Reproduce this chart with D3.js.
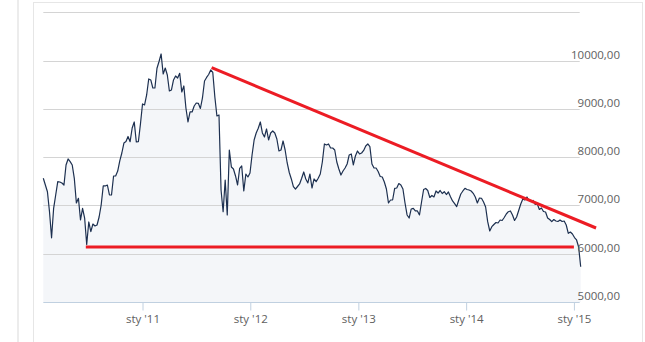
<!DOCTYPE html>
<html>
<head>
<meta charset="utf-8">
<script src="https://cdn.jsdelivr.net/npm/d3@7"></script>
<style>
  html, body { margin: 0; padding: 0; background: #ffffff; }
  svg { display: block; }
  text { font-family: "Open Sans", "DejaVu Sans", sans-serif; }
</style>
</head>
<body>
<svg id="chart" width="645" height="342"></svg>
<script>
// Weekly closing prices, first close on 2010-01-30
const firstClose = "2010-01-30";
const weekStep = 7;
const prices = [
  7563, 7424, 7285, 6871, 6330, 6941, 7217, 7493, 7486, 7466,
  7424, 7839, 7963, 7907, 7839, 7563, 7051, 7149, 6699, 6941,
  6740, 6190, 6658, 6457, 6616, 6575, 6595, 6761, 7010, 7404,
  7404, 7424, 7217, 7217, 7611, 7611, 7714, 7922, 8087, 8294,
  8326, 8429, 8321, 8605, 8730, 8315, 8321, 8688, 9103, 9082,
  9289, 9621, 9600, 9434, 9434, 9842, 9983, 10139, 9724, 9848,
  9703, 9372, 9393, 9600, 9683, 9641, 9739, 9351, 9476, 9020,
  8730, 8937, 8937, 9061, 9123, 9117, 9009, 9227, 9579, 9652,
  9714, 9807, 9755, 9248, 8854, 8875, 7321, 6870, 7528, 6803,
  8149, 7797, 7756, 7611, 7424, 7770, 7818, 7300, 7652, 7590,
  7673, 8046, 8357, 8502, 8599, 8730, 8502, 8419, 8585, 8357,
  8502, 8543, 8502, 8377, 8129, 8149, 8336, 8149, 7880, 7683,
  7549, 7389, 7341, 7393, 7445, 7563, 7694, 7549, 7466, 7652,
  7362, 7549, 7493, 7563, 7652, 7901, 8274, 8253, 8274, 8191,
  8191, 8149, 7901, 7756, 7631, 7714, 7776, 7859, 8046, 8067,
  7839, 8025, 8129, 8067, 8087, 8139, 8232, 8274, 8218, 7859,
  7776, 7776, 7704, 7600, 7590, 7486, 7341, 7051, 7113, 7113,
  7356, 7362, 7455, 7424, 7341, 7051, 6803, 6740, 6927, 6941,
  6886, 6886, 6803, 7072, 7331, 7352, 7310, 7165, 7207, 7176,
  7300, 7258, 7310, 7248, 7285, 7227, 7279, 7182, 7093, 7037,
  6975, 7113, 7238, 7300, 7356, 7331, 7321, 7300, 7252, 7176,
  7051, 7155, 7149, 7072, 6968, 6664, 6471, 6560, 6606, 6647,
  6637, 6699, 6689, 6751, 6823, 6871, 6886, 6803, 6689, 6761,
  6896, 7031, 7134, 7113, 7176, 7103, 7082, 7103, 7020, 7031,
  6917, 6948, 6875, 6865, 6740, 6709, 6664, 6709, 6678, 6668,
  6699, 6668, 6678, 6595, 6423, 6450, 6409, 6336, 6285, 6140, 5731
];

// Hand-drawn trend lines: falling resistance and flat support
const resistanceLine = [["2011-08-23", 9855], ["2015-03-17", 6533]];
const supportLine = [["2010-06-23", 6140], ["2015-01-01", 6140]];

// Axis ticks
const yGridValues = [5000, 6000, 7000, 8000, 9000, 10000, 11000];
const yLabelValues = [5000, 6000, 7000, 8000, 9000, 10000];
const xTickDates = ["2011-01-01", "2012-01-01", "2013-01-01", "2014-01-01", "2015-01-01"];
const xTickLabels = ["sty '11", "sty '12", "sty '13", "sty '14", "sty '15"];

const parse = d3.timeParse("%Y-%m-%d");
const start = parse(firstClose);
const series = prices.map((v, i) => ({ date: d3.timeDay.offset(start, i * weekStep), value: v }));

const svg = d3.select("#chart");
const W = 645, H = 342;
const plot = { left: 43.3, right: 580.7, top: 12.4, bottom: 302 };

const x = d3.scaleTime()
  .domain([series[0].date, series[series.length - 1].date])
  .range([plot.left, plot.right]);
const y = d3.scaleLinear()
  .domain([5000, 11000])
  .range([plot.bottom, plot.top]);

const plLocale = d3.formatLocale({ decimal: ",", thousands: "", grouping: [3], currency: ["", ""] });
const fmtY = plLocale.format(".2f");

// Page and container frame
svg.append("rect").attr("x", 0).attr("y", 0).attr("width", W).attr("height", H).attr("fill", "#ffffff");
svg.append("rect").attr("x", 17).attr("y", 0).attr("width", 2).attr("height", H).attr("fill", "#ececec");
svg.append("rect")
  .attr("x", 33.5).attr("y", 2.5).attr("width", 609).attr("height", H + 10)
  .attr("fill", "none").attr("stroke", "#e6e6e6").attr("stroke-width", 1);

// Area under the price line
const area = d3.area()
  .x(d => x(d.date))
  .y0(y(5000))
  .y1(d => y(d.value));
svg.append("path").datum(series)
  .attr("d", area)
  .attr("fill", "#f4f6f9");

// Horizontal grid
svg.append("g").selectAll("line").data(yGridValues.filter(v => v !== 5000)).join("line")
  .attr("x1", plot.left).attr("x2", plot.right - 1)
  .attr("y1", d => Math.round(y(d)) + 0.5).attr("y2", d => Math.round(y(d)) + 0.5)
  .attr("stroke", "#d4d4d4").attr("stroke-width", 1);

// Price line
const line = d3.line()
  .x(d => x(d.date))
  .y(d => y(d.value));
svg.append("path").datum(series)
  .attr("d", line)
  .attr("fill", "none")
  .attr("stroke", "#1d3050")
  .attr("stroke-width", 1.2)
  .attr("stroke-linejoin", "round");

// Bottom axis
const xAxis = d3.axisBottom(x)
  .tickValues(xTickDates.map(parse))
  .tickFormat((d, i) => xTickLabels[i])
  .tickSize(8)
  .tickSizeOuter(0);
const gx = svg.append("g")
  .attr("transform", `translate(0,${Math.round(y(5000)) + 0.5})`)
  .call(xAxis);
gx.select(".domain").attr("stroke", "#c0d0e0").attr("d", `M${plot.left},0H${plot.right - 1}`);
gx.selectAll(".tick line").attr("stroke", "#c0d0e0");
gx.selectAll(".tick text")
  .attr("fill", "#606060")
  .attr("font-size", "11.5px")
  .attr("font-family", "'Open Sans', 'DejaVu Sans', sans-serif")
  .attr("dy", null)
  .attr("y", 20);

// Right-hand value labels
svg.append("g").selectAll("text").data(yLabelValues).join("text")
  .attr("x", 620)
  .attr("y", d => y(d) - 2)
  .attr("text-anchor", "end")
  .attr("fill", "#606060")
  .attr("font-size", "11.5px")
  .text(d => fmtY(d));

// Trend lines
const trend = d3.line()
  .x(d => x(parse(d[0])))
  .y(d => y(d[1]));
[resistanceLine, supportLine].forEach(seg => {
  svg.append("path").datum(seg)
    .attr("d", trend)
    .attr("fill", "none")
    .attr("stroke", "#ec1c24")
    .attr("stroke-width", 3);
});
</script>
</body>
</html>
